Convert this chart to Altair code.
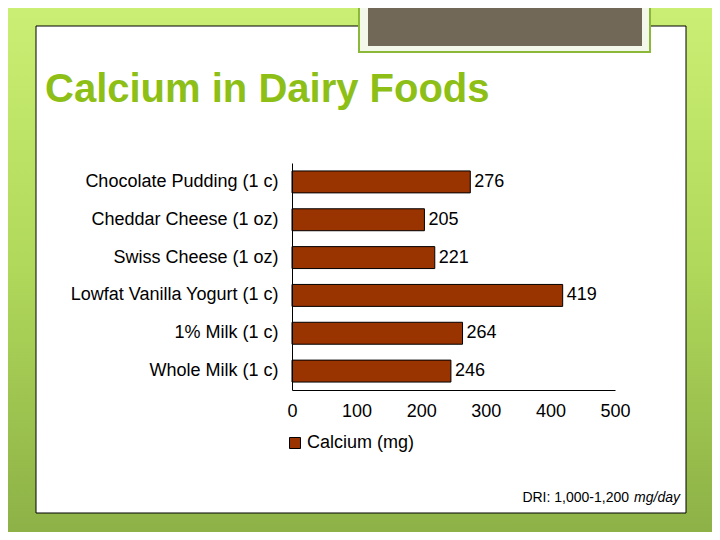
import altair as alt
import pandas as pd

foods = ["Chocolate Pudding (1 c)", "Cheddar Cheese (1 oz)", "Swiss Cheese (1 oz)",
         "Lowfat Vanilla Yogurt (1 c)", "1% Milk (1 c)", "Whole Milk (1 c)"]
calcium = [276, 205, 221, 419, 264, 246]
series_name = "Calcium (mg)"
x_ticks = [0, 100, 200, 300, 400, 500]
title_text = "Calcium in Dairy Foods"
note_text = "DRI: 1,000-1,200"
note_unit = "mg/day"

FONT = "Liberation Sans"
BAR = "#993300"

df = pd.DataFrame({"food": foods, "calcium": calcium, "series": [series_name] * len(foods)})
one = alt.Data(values=[{}])

# decorations (pixel positions relative to plot origin)
bg = alt.Chart(one).mark_rect(
    color=alt.Gradient(gradient="linear",
                       stops=[alt.GradientStop(color="#cbef74", offset=0),
                              alt.GradientStop(color="#b0d85a", offset=0.5),
                              alt.GradientStop(color="#8cb046", offset=1)],
                       x1=0, x2=0, y1=0, y2=1)
).encode(x=alt.value(-292), x2=alt.value(428), y=alt.value(-163), y2=alt.value(377))

white_box = alt.Chart(one).mark_rect(fill="white", stroke="black", strokeWidth=1).encode(
    x=alt.value(-256), x2=alt.value(394), y=alt.value(-137), y2=alt.value(350))

frame_outer = alt.Chart(one).mark_rect(fill="#f4f8ea", stroke="#8cb83a", strokeWidth=2).encode(
    x=alt.value(67), x2=alt.value(358), y=alt.value(-175), y2=alt.value(-111))
frame_inner = alt.Chart(one).mark_rect(fill="#716857").encode(
    x=alt.value(76), x2=alt.value(350), y=alt.value(-175), y2=alt.value(-117))

title = alt.Chart(one).mark_text(
    text=title_text, font=FONT, fontSize=40, fontWeight="bold", color="#8dbf17",
    align="left", baseline="alphabetic"
).encode(x=alt.value(-247), y=alt.value(-61))

note = alt.Chart(one).mark_text(
    text=note_text, font=FONT, fontSize=14, color="black", align="right", baseline="alphabetic"
).encode(x=alt.value(337), y=alt.value(339))
note2 = alt.Chart(one).mark_text(
    text=note_unit, font=FONT, fontSize=14, fontStyle="italic", color="black",
    align="right", baseline="alphabetic"
).encode(x=alt.value(388), y=alt.value(339))

base = alt.Chart(df)
ysc = alt.Scale(paddingInner=0.42, paddingOuter=0.21)
xsc = alt.Scale(domain=[0, 500], nice=False)

bars = base.mark_bar(stroke="black", strokeWidth=1).encode(
    y=alt.Y("food:N", sort=foods, scale=ysc, title=None,
            axis=alt.Axis(zindex=1, ticks=False, domainColor="black", labelFont=FONT,
                          labelFontSize=18, labelColor="black", labelPadding=14,
                          labelLimit=400)),
    x=alt.X("calcium:Q", scale=xsc, title=None,
            axis=alt.Axis(zindex=1, values=x_ticks, ticks=False, grid=False,
                          domainColor="black", labelFont=FONT, labelFontSize=18,
                          labelColor="black", labelPadding=12, labelFlush=False)),
    color=alt.Color("series:N", scale=alt.Scale(range=[BAR]), title=None,
                    legend=alt.Legend(orient="none", legendX=-6, legendY=271,
                                      symbolType="square", symbolSize=121,
                                      symbolStrokeColor="black", symbolStrokeWidth=1,
                                      symbolFillColor=BAR,
                                      labelFont=FONT, labelFontSize=18, labelColor="black",
                                      labelOffset=3)),
)

labels = base.mark_text(font=FONT, fontSize=18, color="black", align="left",
                        baseline="middle", dx=4).encode(
    y=alt.Y("food:N", sort=foods, scale=ysc),
    x=alt.X("calcium:Q", scale=xsc),
    text=alt.Text("calcium:Q"),
)

chart = alt.layer(bg, white_box, frame_outer, frame_inner, title, note, note2, bars, labels).properties(
    width=323, height=227,
    autosize=alt.AutoSizeParams(type="none"),
    padding={"left": 284, "top": 155, "right": 97, "bottom": 142},
).configure_view(stroke=None)

chart.save("out.html", embed_options={"renderer": "svg", "actions": False})
